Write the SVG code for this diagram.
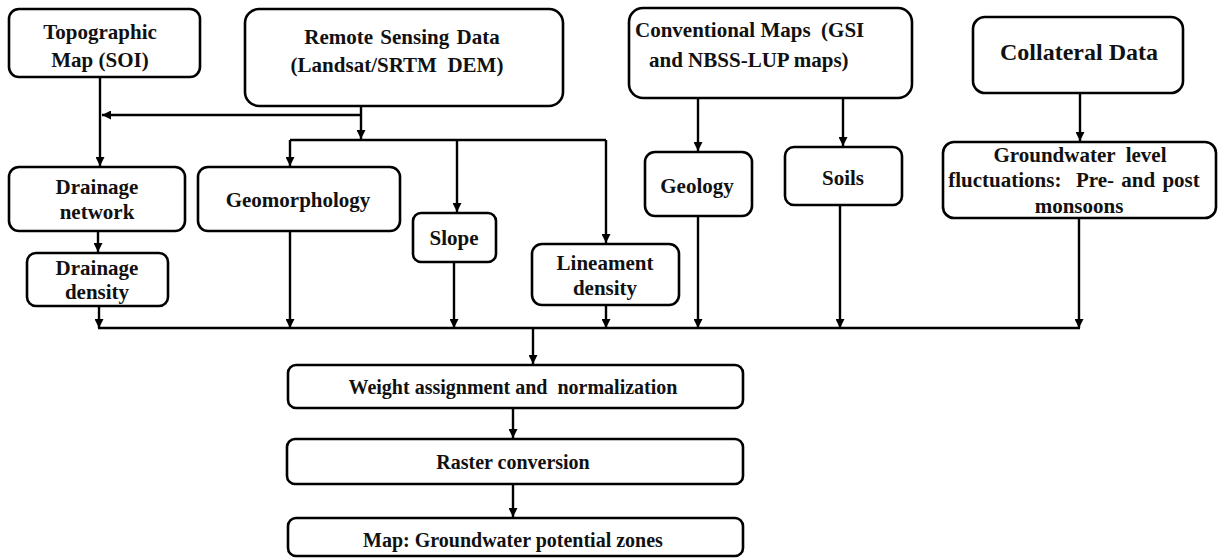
<svg xmlns="http://www.w3.org/2000/svg" width="1219" height="560" viewBox="0 0 1219 560">
<style>
.box{fill:#fff;stroke:#000;stroke-width:2.6}
.t{font-family:'Liberation Serif','Times New Roman','DejaVu Serif',serif;font-weight:bold;font-size:21px;fill:#111;text-anchor:middle;white-space:pre}
.s20{font-size:20px}
.c{fill:none;stroke:#000;stroke-width:2.4}
</style>
<defs>
<marker id="ah" viewBox="0 0 10 10" refX="10" refY="5" markerWidth="9" markerHeight="9" markerUnits="userSpaceOnUse" orient="auto">
<path d="M0,0 L10,5 L0,10 z" fill="#000"/>
</marker>
</defs>
<rect width="1219" height="560" fill="#fff"/>
<g id="connectors">
<path class="c" d="M100 77 V166" marker-end="url(#ah)"/>
<path class="c" d="M361 106 V139" marker-end="url(#ah)"/>
<path class="c" d="M361 115 H102" marker-end="url(#ah)"/>
<path class="c" d="M290 140 H606"/>
<path class="c" d="M290 140 V166" marker-end="url(#ah)"/>
<path class="c" d="M457 140 V212" marker-end="url(#ah)"/>
<path class="c" d="M606 140 V243" marker-end="url(#ah)"/>
<path class="c" d="M698 98 V151" marker-end="url(#ah)"/>
<path class="c" d="M843 98 V146" marker-end="url(#ah)"/>
<path class="c" d="M1080 93 V141" marker-end="url(#ah)"/>
<path class="c" d="M98 231 V252" marker-end="url(#ah)"/>
<path class="c" d="M98 328 H1080"/>
<path class="c" d="M99 306 V328" marker-end="url(#ah)"/>
<path class="c" d="M290 231 V328" marker-end="url(#ah)"/>
<path class="c" d="M454 262 V328" marker-end="url(#ah)"/>
<path class="c" d="M606 305 V328" marker-end="url(#ah)"/>
<path class="c" d="M698 216 V328" marker-end="url(#ah)"/>
<path class="c" d="M840 205 V328" marker-end="url(#ah)"/>
<path class="c" d="M1079 218 V328" marker-end="url(#ah)"/>
<path class="c" d="M533 328 V364" marker-end="url(#ah)"/>
<path class="c" d="M513 408 V438" marker-end="url(#ah)"/>
<path class="c" d="M513 484 V517" marker-end="url(#ah)"/>
</g>
<g id="topo">
<rect class="box" x="9" y="9" width="191" height="68" rx="10"/>
<text class="t" x="100" y="39">Topographic</text>
<text class="t" x="100" y="67">Map (SOI)</text>
</g>
<g id="remote">
<rect class="box" x="245" y="9" width="318" height="97" rx="14"/>
<text class="t" x="402" y="44" style="word-spacing:2px">Remote Sensing Data</text>
<text class="t" x="397" y="72">(Landsat/SRTM  DEM)</text>
</g>
<g id="conventional">
<rect class="box" x="629" y="8" width="283" height="90" rx="14"/>
<text class="t" x="635" y="37" style="text-anchor:start">Conventional Maps  (GSI</text>
<text class="t" x="649" y="67" style="text-anchor:start">and NBSS-LUP maps)</text>
</g>
<g id="collateral">
<rect class="box" x="973" y="17" width="210" height="76" rx="12"/>
<text class="t" x="1079" y="60" style="font-size:24px">Collateral Data</text>
</g>
<g id="drainage-network">
<rect class="box" x="9" y="167" width="176" height="64" rx="10"/>
<text class="t" x="97" y="194">Drainage</text>
<text class="t" x="97" y="219">network</text>
</g>
<g id="geomorphology">
<rect class="box" x="198" y="167" width="202" height="64" rx="10"/>
<text class="t" x="298" y="207">Geomorphology</text>
</g>
<g id="drainage-density">
<rect class="box" x="27" y="253" width="141" height="53" rx="9"/>
<text class="t" x="97" y="275">Drainage</text>
<text class="t" x="97" y="299">density</text>
</g>
<g id="slope">
<rect class="box" x="413" y="213" width="83" height="49" rx="8"/>
<text class="t" x="454" y="245">Slope</text>
</g>
<g id="lineament">
<rect class="box" x="532" y="244" width="147" height="61" rx="10"/>
<text class="t" x="605" y="270">Lineament</text>
<text class="t" x="605" y="295">density</text>
</g>
<g id="geology">
<rect class="box" x="645" y="152" width="107" height="64" rx="10"/>
<text class="t" x="697" y="193">Geology</text>
</g>
<g id="soils">
<rect class="box" x="785" y="147" width="117" height="58" rx="9"/>
<text class="t" x="843" y="185">Soils</text>
</g>
<g id="groundwater">
<rect class="box" x="943" y="142" width="273" height="76" rx="11"/>
<text class="t" x="1080" y="162">Groundwater  level</text>
<text class="t" x="1074" y="187" style="word-spacing:2px">fluctuations:  Pre- and post</text>
<text class="t" x="1079" y="213">monsoons</text>
</g>
<g id="weight">
<rect class="box" x="288" y="365" width="455" height="43" rx="8"/>
<text class="t s20" x="513" y="394">Weight assignment and  normalization</text>
</g>
<g id="raster">
<rect class="box" x="287" y="439" width="456" height="45" rx="8"/>
<text class="t s20" x="513" y="469">Raster conversion</text>
</g>
<g id="map">
<rect class="box" x="288" y="518" width="455" height="38" rx="8"/>
<text class="t s20" x="513" y="547">Map: Groundwater potential zones</text>
</g>
</svg>
